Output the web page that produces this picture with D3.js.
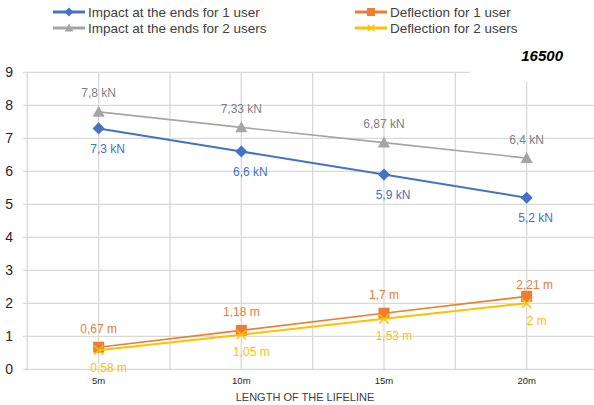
<!DOCTYPE html>
<html><head><meta charset="utf-8">
<script src="https://cdn.jsdelivr.net/npm/d3@7"></script>
<style>body{margin:0;background:#fff}svg{display:block;font-family:"Liberation Sans",Arial,sans-serif}</style>
</head><body><svg id="c" width="594" height="405"></svg>
<script>
const categories = ["5m","10m","15m","20m"];
const impact1 = [7.3, 6.6, 5.9, 5.2];
const impact2 = [7.8, 7.33, 6.87, 6.4];
const deflect1 = [0.67, 1.18, 1.7, 2.21];
const deflect2 = [0.58, 1.05, 1.53, 2.0];
const impact1Labels = ["7,3 kN","6,6 kN","5,9 kN","5,2 kN"];
const impact2Labels = ["7,8 kN","7,33 kN","6,87 kN","6,4 kN"];
const deflect1Labels = ["0,67 m","1,18 m","1,7 m","2,21 m"];
const deflect2Labels = ["0,58 m","1,05 m","1,53 m","2 m"];
const yTicks = [0,1,2,3,4,5,6,7,8,9];
const xTitle = "LENGTH OF THE LIFELINE";
const cornerLabel = "16500";

const svg = d3.select("#c");
const x = d3.scaleBand().domain(categories).range([27.3, 598]).padding(0);
const y = d3.scaleLinear().domain([0, 9]).range([369.3, 72.3]);
const cx = c => x(c) + x.bandwidth()/2;
const grid = "#d9d9d9";

// horizontal grid
svg.append("g").selectAll("line").data(yTicks).join("line")
  .attr("x1", 23).attr("x2", 594)
  .attr("y1", d => y(d)).attr("y2", d => y(d))
  .attr("stroke", grid).attr("stroke-width", 1.3);
// vertical grid: band edges and centers
const vx = [];
categories.forEach(c => { vx.push(x(c)); vx.push(cx(c)); });
svg.append("g").selectAll("line").data(vx).join("line")
  .attr("x1", d => d).attr("x2", d => d)
  .attr("y1", y(9)).attr("y2", y(0))
  .attr("stroke", grid).attr("stroke-width", 1.3);

// y labels
svg.append("g").selectAll("text").data(yTicks).join("text")
  .attr("x", 13).attr("y", d => y(d) + 5)
  .attr("text-anchor", "end").attr("font-size", 14).attr("fill", "#262626")
  .text(d => d);
// x labels
svg.append("g").selectAll("text").data(categories).join("text")
  .attr("x", d => cx(d)).attr("y", 384)
  .attr("text-anchor", "middle").attr("font-size", 9.5).attr("fill", "#262626")
  .text(d => d);
svg.append("text").attr("x", 305).attr("y", 401).attr("text-anchor", "middle")
  .attr("font-size", 11).attr("fill", "#404040").text(xTitle);

// corner label with white box
svg.append("rect").attr("x", 470).attr("y", 40).attr("width", 124).attr("height", 42).attr("fill", "#fff");
svg.append("text").attr("x", 563).attr("y", 61).attr("text-anchor", "end")
  .attr("font-size", 15).attr("font-weight", "bold").attr("font-style", "italic").attr("fill", "#000")
  .text(cornerLabel);

const series = [
  {name:"Impact at the ends for 1 user", vals:impact1, labels:impact1Labels, color:"#4472C4", lc:"#4472C4", sym:"diamond", w:2, dx:9, dy:20},
  {name:"Impact at the ends for 2 users", vals:impact2, labels:impact2Labels, color:"#A5A5A5", lc:"#7F7F7F", sym:"triangle", w:1.6, dx:0, dy:-19},
  {name:"Deflection for 1 user", vals:deflect1, labels:deflect1Labels, color:"#ED7D31", lc:"#ED7D31", sym:"square", w:1.6, dx:0, dy:-19},
  {name:"Deflection for 2 users", vals:deflect2, labels:deflect2Labels, color:"#FFC000", lc:"#FFC000", sym:"x", w:2, dx:10, dy:17}
];

function marker(g, s, px, py, size) {
  if (s.sym === "diamond") {
    const r = size*0.55;
    g.append("path").attr("d", `M${px},${py-r}L${px+r},${py}L${px},${py+r}L${px-r},${py}Z`).attr("fill", s.color);
  } else if (s.sym === "triangle") {
    const r = size*0.55;
    g.append("path").attr("d", `M${px},${py-r}L${px+r},${py+r*0.8}L${px-r},${py+r*0.8}Z`).attr("fill", s.color);
  } else if (s.sym === "square") {
    const r = size*0.5;
    g.append("rect").attr("x", px-r).attr("y", py-r).attr("width", 2*r).attr("height", 2*r).attr("fill", s.color);
  } else {
    const r = size*0.42;
    g.append("path").attr("d", `M${px-r},${py-r}L${px+r},${py+r}M${px+r},${py-r}L${px-r},${py+r}`)
      .attr("stroke", s.color).attr("stroke-width", 1.4).attr("fill", "none");
  }
}

const line = d3.line().x((d,i) => cx(categories[i])).y(d => y(d));
series.forEach(s => {
  const g = svg.append("g");
  g.append("path").attr("d", line(s.vals)).attr("fill", "none").attr("stroke", s.color).attr("stroke-width", s.w);
  s.vals.forEach((v,i) => marker(g, s, cx(categories[i]), y(v), 11));
  s.vals.forEach((v,i) => {
    let dx = s.dx, dy = s.dy;
    if (s.sym === "square" && i === categories.length-1) { dx = 8; dy = -12; }
    g.append("text").attr("x", cx(categories[i]) + dx).attr("y", y(v) + dy + 4.5)
      .attr("text-anchor", "middle").attr("font-size", 12).attr("fill", s.lc).text(s.labels[i]);
  });
});

// legend
const legPos = [[53,12],[53,28],[355,12],[355,28]];
series.forEach((s,i) => {
  const [lx, ly] = legPos[i];
  const g = svg.append("g");
  g.append("line").attr("x1", lx).attr("x2", lx+32).attr("y1", ly).attr("y2", ly)
    .attr("stroke", s.color).attr("stroke-width", 3);
  marker(g, s, lx+16, ly, 8);
  g.append("text").attr("x", lx+35).attr("y", ly+5).attr("font-size", 13.5).attr("fill", "#404040").text(s.name);
});
</script></body></html>
